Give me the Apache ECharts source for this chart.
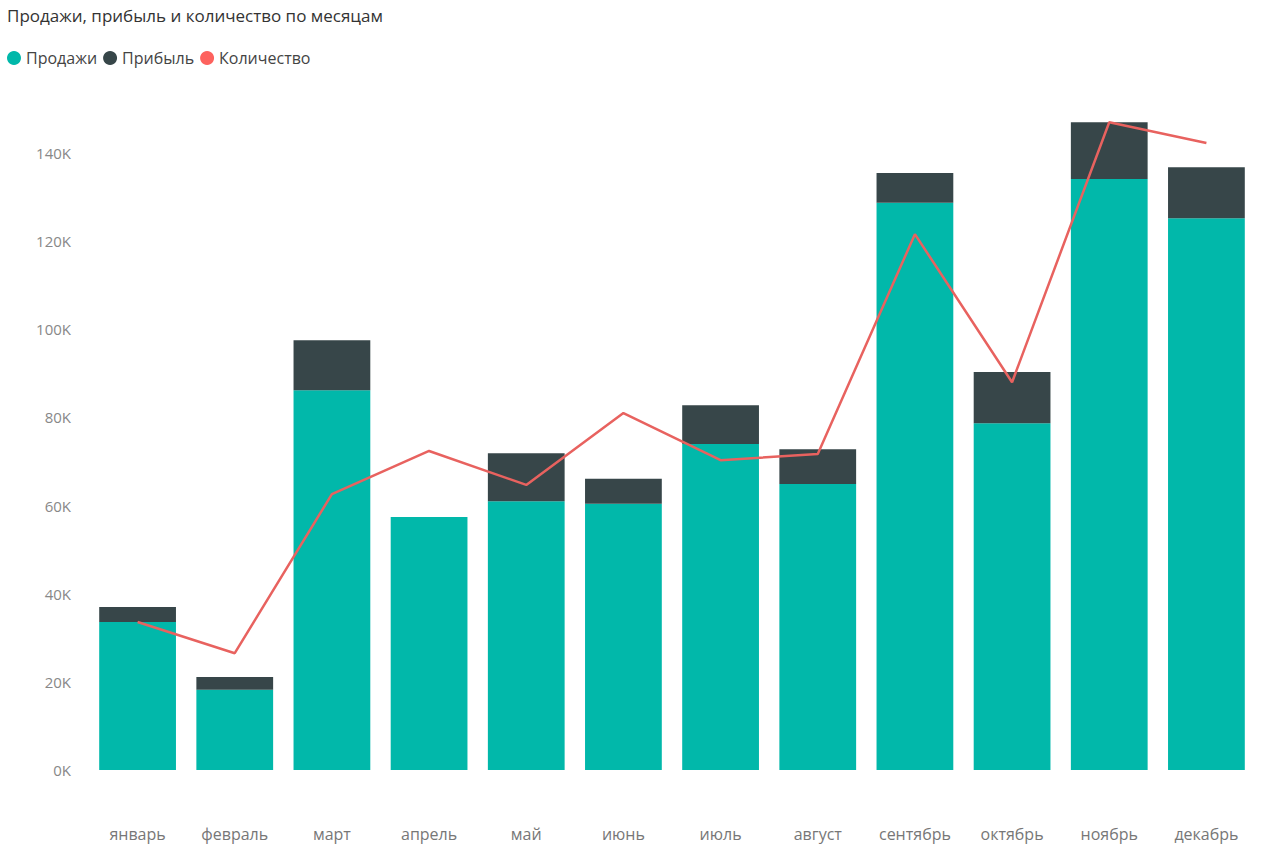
<!DOCTYPE html>
<html><head><meta charset="utf-8">
<script src="https://cdn.jsdelivr.net/npm/echarts@6/dist/echarts.min.js"></script>
<style>html,body{margin:0;padding:0;background:#fff}#c{width:1264px;height:847px}</style>
</head><body><div id="c"></div>
<script>
const months = ["январь","февраль","март","апрель","май","июнь","июль","август","сентябрь","октябрь","ноябрь","декабрь"];
const sales = [33600,18200,86200,57400,61000,60400,74000,64900,128700,78700,134100,125200];
const profit = [3400,2900,11300,-500,10900,5700,8800,7900,6800,11600,12900,11600];
const quantity = [33600,26500,62600,72400,64700,81000,70300,71700,121600,88000,147000,142300];

const chart = echarts.init(document.getElementById("c"), null, { renderer: "svg" });
chart.setOption({
  animation: false,
  textStyle: { fontFamily: "Segoe UI, Open Sans, sans-serif" },
  title: { text: "Продажи, прибыль и количество по месяцам", left: 2, top: 2,
    textStyle: { fontSize: 17, fontWeight: "normal", color: "#333" } },
  legend: { left: 2, top: 45, icon: "circle", itemWidth: 14, itemHeight: 14, itemGap: 6,
    textStyle: { fontSize: 16, color: "#444" },
    data: ["Продажи","Прибыль","Количество"] },
  grid: { left: 89, right: 9, top: 109, bottom: 77 },
  xAxis: { type: "category", data: months,
    axisLine: { show: false }, axisTick: { show: false },
    axisLabel: { color: "#777", fontSize: 16, margin: 56 } },
  yAxis: [
    { type: "value", min: 0, max: 150000, interval: 20000, splitLine: { show: false },
      axisLabel: { color: "#888", fontSize: 15, margin: 18,
        formatter: v => v > 140000 ? "" : (v / 1000) + "K" } },
    { type: "value", min: 0, max: 150000, show: false }
  ],
  series: [
    { name: "Продажи", type: "bar", stack: "s", data: sales, barWidth: "79%",
      itemStyle: { color: "#01b8aa" } },
    { name: "Прибыль", type: "bar", stack: "s", data: profit,
      itemStyle: { color: "#374649" } },
    { name: "Количество", type: "line", yAxisIndex: 1, data: quantity, symbol: "none",
      itemStyle: { color: "#fd625e" }, lineStyle: { width: 2.5, color: "#e8625f" } }
  ]
});
</script></body></html>
